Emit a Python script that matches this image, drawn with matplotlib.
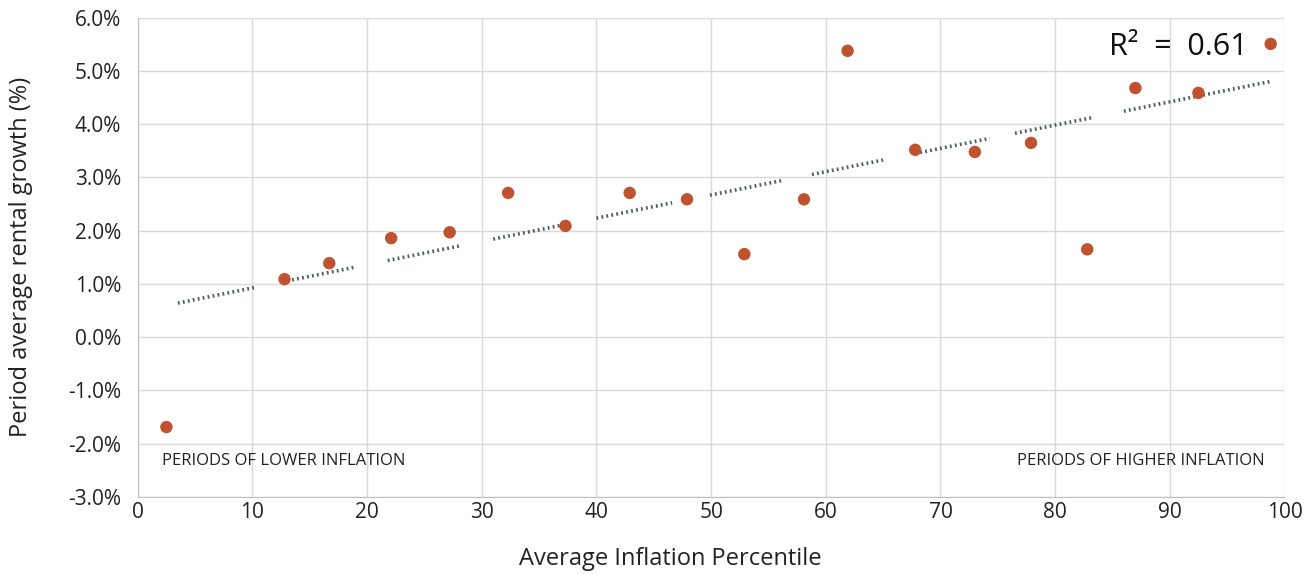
import numpy as np
import matplotlib
matplotlib.use("Agg")
import matplotlib.pyplot as plt
from matplotlib.ticker import FuncFormatter

# inflation percentile vs period average rental growth (%)
percentile = [2.5, 12.8, 16.7, 22.1, 27.2, 32.3, 37.3, 42.9, 47.9, 52.9,
              58.1, 61.9, 67.8, 73.0, 77.9, 82.8, 87.0, 92.5, 98.8]
growth = [-1.69, 1.09, 1.39, 1.86, 1.97, 2.71, 2.09, 2.71, 2.59, 1.56,
          2.59, 5.38, 3.52, 3.48, 3.65, 1.65, 4.68, 4.59, 5.51]

# linear trend as shown on the chart (end points)
trend_x = [3.5, 98.9]
trend_y = [0.64, 4.81]

plt.rcParams['font.family'] = ['Open Sans', 'DejaVu Sans']

fig = plt.figure(figsize=(13.12, 5.75), dpi=100)
ax = fig.add_axes([0.105, 0.136, 0.874, 0.833])

# trend line, drawn in pieces like the original
slope = (trend_y[1] - trend_y[0]) / (trend_x[1] - trend_x[0])
icpt = trend_y[0] - slope * trend_x[0]
pieces = [(3.5, 10.2), (12.6, 18.9), (21.8, 28.2), (31.0, 37.4), (40.0, 46.6),
          (49.9, 56.3), (58.8, 65.2), (67.8, 74.3), (76.5, 83.2), (86.0, 98.9)]
for a, b in pieces:
    xs = np.array([a, b])
    ax.plot(xs, slope * xs + icpt, color='#4f5b60', lw=2.6,
            linestyle=(0, (0.5, 0.9)), zorder=2)

ax.scatter(percentile, growth, s=80, color='#c0532f', zorder=3, edgecolors='none')

ax.set_xlim(0, 100)
ax.set_ylim(-3, 6)
ax.set_xticks(range(0, 101, 10))
ax.set_yticks(range(-3, 7))
ax.yaxis.set_major_formatter(FuncFormatter(lambda v, p: f"{v:.1f}%"))
ax.grid(True, color='#d9d9d9', lw=1)
ax.set_axisbelow(True)
for s in ax.spines.values():
    s.set_visible(False)
ax.spines['bottom'].set_visible(True)
ax.spines['bottom'].set_color('#bfbfbf')
ax.spines['left'].set_visible(True)
ax.spines['left'].set_color('#bfbfbf')
ax.tick_params(length=0, labelsize=15, colors='#222222', pad=12)
ax.tick_params(axis='x', pad=4)

ax.set_xlabel('Average Inflation Percentile', fontsize=17, color='#222222')
ax.set_ylabel('Period average rental growth (%)', fontsize=17, color='#222222')
ax.xaxis.set_label_coords(0.464, -0.105)
ax.yaxis.set_label_coords(-0.091, 0.5)

ax.text(2.1, -2.33, 'PERIODS OF LOWER INFLATION', fontsize=12, color='#222222', va='center')
ax.text(98.3, -2.33, 'PERIODS OF HIGHER INFLATION', fontsize=12, color='#222222',
        va='center', ha='right')
ax.text(96.8, 5.45, 'R²  =  0.61', fontsize=22, color='#111111', va='center', ha='right')

fig.savefig('out.png', dpi=100)
